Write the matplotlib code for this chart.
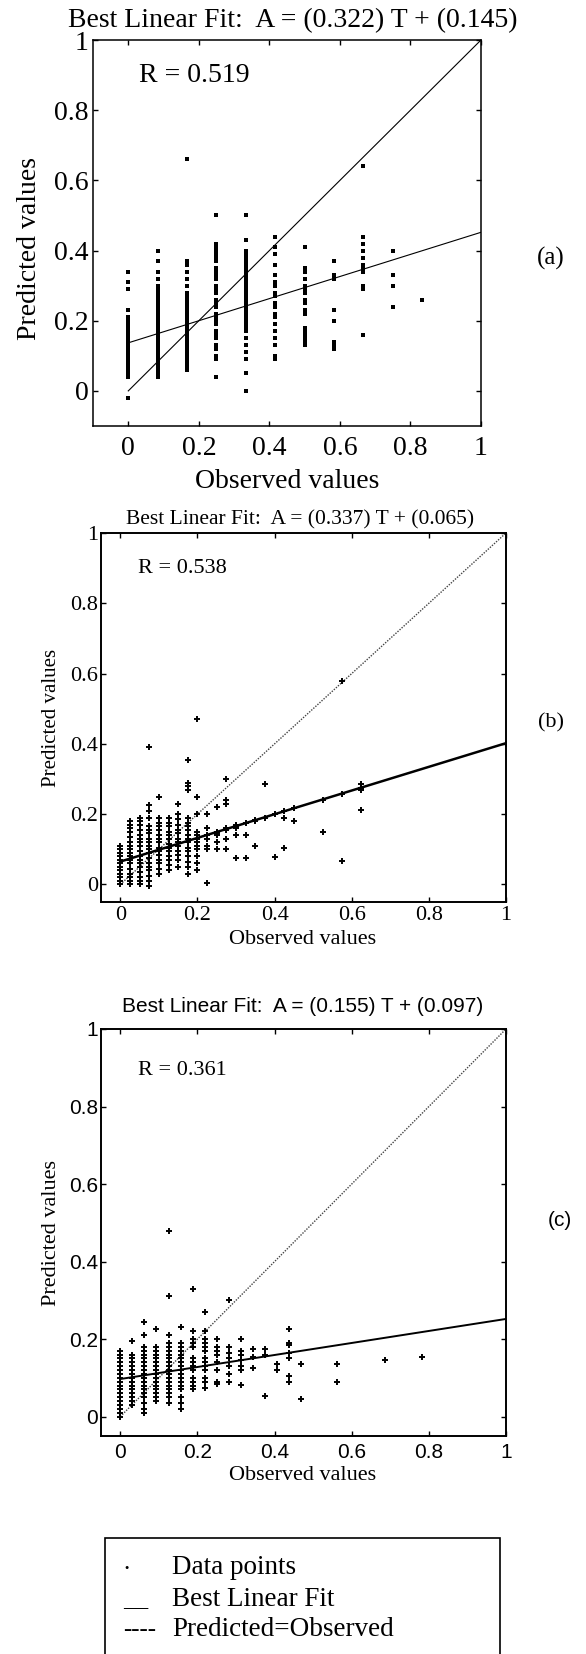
import matplotlib
matplotlib.use("Agg")
import matplotlib.pyplot as plt
from matplotlib.patches import Rectangle

# ---- data ----
ticks = [0, 0.2, 0.4, 0.6, 0.8, 1]
tick_labels = ['0', '0.2', '0.4', '0.6', '0.8', '1']

# panel (a)
a_title = 'Best Linear Fit:  A = (0.322) T + (0.145)'
a_r = 'R = 0.519'
a_fit = [0.137, 0.452]          # fit line at T=0 and T=1, as drawn
a_x = [0, 0.0833, 0.1667, 0.25, 0.3333, 0.4167, 0.5, 0.5833, 0.6667, 0.75, 0.8333]
a_y = [
    [-0.02, 0.04, 0.05, 0.06, 0.07, 0.08, 0.09, 0.10, 0.11, 0.12, 0.13, 0.14, 0.15,
     0.16, 0.17, 0.18, 0.19, 0.20, 0.21, 0.23, 0.29, 0.31, 0.34],
    [0.04, 0.05, 0.06, 0.07, 0.08, 0.09, 0.10, 0.11, 0.12, 0.13, 0.14, 0.15, 0.16,
     0.17, 0.18, 0.19, 0.20, 0.21, 0.22, 0.23, 0.24, 0.25, 0.26, 0.27, 0.28, 0.29,
     0.30, 0.32, 0.34, 0.37, 0.40],
    [0.06, 0.07, 0.08, 0.09, 0.10, 0.11, 0.12, 0.13, 0.14, 0.15, 0.16, 0.17, 0.18,
     0.19, 0.20, 0.21, 0.22, 0.23, 0.24, 0.25, 0.26, 0.27, 0.28, 0.30, 0.32, 0.34,
     0.36, 0.37, 0.66],
    [0.04, 0.09, 0.10, 0.12, 0.13, 0.15, 0.16, 0.17, 0.19, 0.20, 0.21, 0.22, 0.24,
     0.25, 0.26, 0.28, 0.29, 0.30, 0.32, 0.33, 0.34, 0.35, 0.37, 0.38, 0.39, 0.40,
     0.41, 0.42, 0.50],
    [0.0, 0.05, 0.09, 0.11, 0.13, 0.15, 0.17, 0.18, 0.19, 0.20, 0.21, 0.22, 0.23,
     0.24, 0.25, 0.26, 0.27, 0.28, 0.29, 0.30, 0.31, 0.32, 0.33, 0.34, 0.35, 0.36,
     0.37, 0.38, 0.39, 0.40, 0.43, 0.50],
    [0.09, 0.10, 0.13, 0.15, 0.17, 0.19, 0.21, 0.22, 0.24, 0.25, 0.27, 0.28, 0.30,
     0.31, 0.33, 0.36, 0.39, 0.41, 0.44],
    [0.13, 0.14, 0.15, 0.16, 0.17, 0.18, 0.22, 0.23, 0.25, 0.26, 0.28, 0.29, 0.30,
     0.32, 0.34, 0.35, 0.41],
    [0.12, 0.13, 0.14, 0.20, 0.23, 0.32, 0.33, 0.37],
    [0.16, 0.29, 0.30, 0.34, 0.35, 0.36, 0.38, 0.40, 0.42, 0.44, 0.64],
    [0.24, 0.30, 0.33, 0.40],
    [0.26],
]

# panel (b)
b_title = 'Best Linear Fit:  A = (0.337) T + (0.065)'
b_r = 'R = 0.538'
b_fit = [0.065, 0.402]
b_x = [0, 0.025, 0.05, 0.075, 0.1, 0.125, 0.15, 0.175, 0.2, 0.225, 0.25, 0.275,
       0.3, 0.325, 0.35, 0.375, 0.4, 0.425, 0.45, 0.525, 0.575, 0.625, 1.0]
b_y = [
    [0.00, 0.01, 0.02, 0.03, 0.04, 0.05, 0.06, 0.07, 0.08, 0.09, 0.10, 0.11],
    [0.00, 0.01, 0.02, 0.03, 0.045, 0.06, 0.07, 0.08, 0.09, 0.10, 0.11, 0.12, 0.135,
     0.15, 0.16, 0.17, 0.18],
    [0.00, 0.01, 0.02, 0.035, 0.05, 0.06, 0.07, 0.08, 0.095, 0.11, 0.12, 0.13, 0.14,
     0.155, 0.17, 0.18, 0.19],
    [-0.005, 0.01, 0.025, 0.04, 0.05, 0.06, 0.075, 0.09, 0.10, 0.11, 0.12, 0.13,
     0.145, 0.155, 0.165, 0.19, 0.21, 0.225, 0.39],
    [0.03, 0.045, 0.06, 0.07, 0.085, 0.095, 0.105, 0.12, 0.13, 0.14, 0.155, 0.165,
     0.175, 0.19, 0.25],
    [0.04, 0.055, 0.07, 0.08, 0.095, 0.105, 0.115, 0.13, 0.14, 0.15, 0.165, 0.175,
     0.19],
    [0.05, 0.07, 0.085, 0.095, 0.11, 0.12, 0.13, 0.145, 0.155, 0.17, 0.185, 0.20,
     0.23],
    [0.03, 0.05, 0.065, 0.08, 0.095, 0.105, 0.12, 0.13, 0.14, 0.155, 0.165, 0.175,
     0.19, 0.27, 0.28, 0.29, 0.355],
    [0.04, 0.06, 0.08, 0.10, 0.11, 0.12, 0.13, 0.14, 0.15, 0.20, 0.25, 0.47],
    [0.005, 0.10, 0.11, 0.13, 0.14, 0.16, 0.20],
    [0.10, 0.12, 0.14, 0.145, 0.15, 0.22],
    [0.10, 0.13, 0.155, 0.16, 0.23, 0.24, 0.30],
    [0.076, 0.14, 0.16, 0.165, 0.17],
    [0.076, 0.14, 0.175],
    [0.11, 0.18, 0.183],
    [0.19, 0.285],
    [0.077, 0.20],
    [0.105, 0.19, 0.208],
    [0.18, 0.217],
    [0.15, 0.24],
    [0.068, 0.258, 0.578],
    [0.213, 0.27, 0.275, 0.285],
    [0.40],
]

# panel (c)
c_title = 'Best Linear Fit:  A = (0.155) T + (0.097)'
c_r = 'R = 0.361'
c_fit = [0.097, 0.252]
c_x = [0, 0.03125, 0.0625, 0.09375, 0.125, 0.15625, 0.1875, 0.21875, 0.25, 0.28125,
       0.3125, 0.34375, 0.375, 0.40625, 0.4375, 0.46875, 0.5625, 0.6875, 0.78125]
c_y = [
    [0.00, 0.01, 0.02, 0.03, 0.04, 0.05, 0.06, 0.07, 0.08, 0.09, 0.10, 0.11, 0.12,
     0.13, 0.14, 0.15, 0.16, 0.17],
    [0.03, 0.04, 0.05, 0.06, 0.07, 0.08, 0.09, 0.10, 0.11, 0.12, 0.13, 0.14, 0.15,
     0.16, 0.195],
    [0.01, 0.02, 0.035, 0.05, 0.06, 0.07, 0.08, 0.09, 0.10, 0.11, 0.12, 0.13, 0.14,
     0.15, 0.16, 0.17, 0.18, 0.21, 0.245],
    [0.04, 0.05, 0.06, 0.07, 0.08, 0.09, 0.10, 0.11, 0.12, 0.13, 0.14, 0.15, 0.16,
     0.17, 0.18, 0.225],
    [0.035, 0.05, 0.06, 0.07, 0.08, 0.09, 0.10, 0.11, 0.12, 0.13, 0.14, 0.15, 0.16,
     0.17, 0.18, 0.19, 0.21, 0.31, 0.48],
    [0.02, 0.035, 0.05, 0.07, 0.08, 0.09, 0.10, 0.11, 0.12, 0.13, 0.14, 0.15, 0.16,
     0.17, 0.18, 0.19, 0.23],
    [0.07, 0.08, 0.09, 0.10, 0.12, 0.13, 0.14, 0.15, 0.18, 0.19, 0.20, 0.22, 0.33],
    [0.075, 0.09, 0.10, 0.12, 0.13, 0.14, 0.15, 0.17, 0.18, 0.19, 0.20, 0.22, 0.27],
    [0.085, 0.09, 0.12, 0.14, 0.16, 0.17, 0.18, 0.20],
    [0.09, 0.11, 0.13, 0.15, 0.165, 0.18, 0.30],
    [0.082, 0.12, 0.13, 0.145, 0.16, 0.17, 0.20],
    [0.125, 0.155, 0.175],
    [0.054, 0.16, 0.175],
    [0.12, 0.135],
    [0.089, 0.105, 0.15, 0.165, 0.185, 0.19, 0.227],
    [0.046, 0.135],
    [0.09, 0.135],
    [0.145],
    [0.155],
]

legend_marks = ['.', '__', '----']
legend_texts = ['Data points', 'Best Linear Fit', 'Predicted=Observed']

# ---- drawing ----
W, H = 586, 1654
SERIF = ['Liberation Serif', 'DejaVu Serif']
SANS = ['Liberation Sans', 'DejaVu Sans']

fig = plt.figure(figsize=(W / 100, H / 100), dpi=100)


def fx(x):
    return x / W


def fy(y):
    return 1 - y / H


def flat(xs, ys):
    px, py = [], []
    for x, col in zip(xs, ys):
        for y in col:
            px.append(x)
            py.append(y)
    return px, py


def panel(box, lim, tick_font, tick_size, pad_x, pad_y, spine_w):
    left, top, right, bottom = box
    ax = fig.add_axes([fx(left), fy(bottom), (right - left) / W, (bottom - top) / H])
    ax.set_xlim(lim, 1)
    ax.set_ylim(lim, 1)
    ax.set_xticks(ticks)
    ax.set_yticks(ticks)
    ax.set_xticklabels(tick_labels, family=tick_font, fontsize=tick_size)
    ax.set_yticklabels(tick_labels, family=tick_font, fontsize=tick_size)
    ax.tick_params(direction='in', top=True, right=True, length=3.5, width=1)
    ax.tick_params(axis='x', pad=pad_x)
    ax.tick_params(axis='y', pad=pad_y)
    for s in ax.spines.values():
        s.set_linewidth(spine_w)
    return ax


# (a)
ax = panel((93, 40, 481, 426), -0.1, SERIF, 20, 7, 3, 1.1)
px, py = flat(a_x, a_y)
ax.plot(px, py, 's', color='black', ms=2.3, mew=0)
ax.plot([0, 1], [0, 1], color='black', lw=0.8)
ax.plot([0, 1], a_fit, color='black', lw=0.8)
ax.text(0.03, 0.9, a_r, family=SERIF, fontsize=20, va='center')
fig.text(fx(293), fy(21), a_title, family=SERIF, fontsize=20, ha='center', va='center')
fig.text(fx(30), fy(248), 'Predicted values', family=SERIF, fontsize=20,
         rotation=90, ha='center', va='center')
fig.text(fx(287), fy(482), 'Observed values', family=SERIF, fontsize=20,
         ha='center', va='center')
fig.text(fx(551), fy(258), '(a)', family=SERIF, fontsize=18, ha='center', va='center')

# (b)
ax = panel((101, 533, 506, 902), -0.05, SERIF, 16, 3, 2, 1.4)
px, py = flat(b_x, b_y)
ax.plot([0, 1], [0, 1], color='#444444', lw=1.0, ls=(0, (1, 1)))
ax.plot([0, 1], b_fit, color='black', lw=1.8)
ax.plot(px, py, '+', color='black', ms=4.5, mew=1.4)
ax.text(0.045, 0.9, b_r, family=SERIF, fontsize=16, va='center')
fig.text(fx(300), fy(520), b_title, family=SERIF, fontsize=15.5, ha='center', va='center')
fig.text(fx(52), fy(718), 'Predicted values', family=SERIF, fontsize=15,
         rotation=90, ha='center', va='center')
fig.text(fx(303), fy(939), 'Observed values', family=SERIF, fontsize=16,
         ha='center', va='center')
fig.text(fx(551), fy(723), '(b)', family=SERIF, fontsize=16, ha='center', va='center')

# (c)
ax = panel((101, 1029, 506, 1436), -0.05, SANS, 15, 5, 2, 1.4)
px, py = flat(c_x, c_y)
ax.plot([0, 1], [0, 1], color='#444444', lw=1.0, ls=(0, (1, 1)))
ax.plot([0, 1], c_fit, color='black', lw=1.4)
ax.plot(px, py, '+', color='black', ms=4.5, mew=1.4)
ax.text(0.047, 0.894, c_r, family=SERIF, fontsize=16, va='center')
fig.text(fx(303), fy(1007), c_title, family=SANS, fontsize=15, ha='center', va='center')
fig.text(fx(52), fy(1233), 'Predicted values', family=SERIF, fontsize=16,
         rotation=90, ha='center', va='center')
fig.text(fx(303), fy(1475), 'Observed values', family=SERIF, fontsize=16,
         ha='center', va='center')
fig.text(fx(560), fy(1220), '(c)', family=SANS, fontsize=15, ha='center', va='center')

# legend box (runs off the bottom of the page)
fig.patches.append(Rectangle((fx(105), fy(1670)), (500 - 105) / W, (1670 - 1538) / H,
                             transform=fig.transFigure, fill=False, lw=1.2,
                             edgecolor='black', clip_on=False))
rows_y = [1568, 1600, 1630]
marks_dy = [-5, -1, 0]
for mark, label, y, dy in zip(legend_marks, legend_texts, rows_y, marks_dy):
    fig.text(fx(123), fy(y + dy), mark, family=SERIF, fontsize=18, va='center')
    fig.text(fx(172), fy(y), label, family=SERIF, fontsize=19.5, va='center')

fig.savefig('out.png', dpi=100)
